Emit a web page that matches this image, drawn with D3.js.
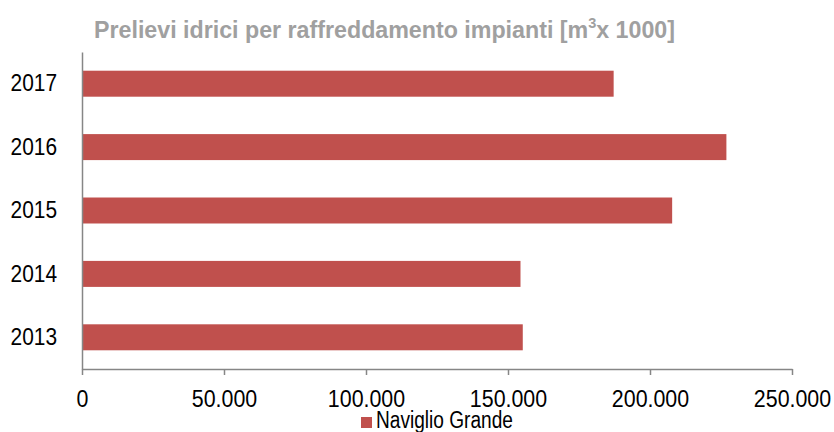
<!DOCTYPE html>
<html>
<head>
<meta charset="utf-8">
<script src="https://cdn.jsdelivr.net/npm/d3@7"></script>
<style>
  body { margin: 0; background: #fff; }
  text { font-family: "Liberation Sans", Arial, sans-serif; }
</style>
</head>
<body>
<div id="chart"></div>
<script>
// data
var years = ['2017', '2016', '2015', '2014', '2013']
var values = [187200, 226900, 207800, 154400, 155200]
var ticks = [0, 50000, 100000, 150000, 200000, 250000]
var seriesName = 'Naviglio Grande'

var w = 834, h = 432
var barColor = '#c0504d', axisColor = '#868686'
var fontFam = '"Liberation Sans", Arial, sans-serif'

var svg = d3.select('#chart').append('svg')
  .attr('width', w).attr('height', h)

var x = d3.scaleLinear().domain([0, 250000]).range([82, 792])
var y = d3.scaleBand().domain(years).range([52, 369])
  .paddingInner(0.59).paddingOuter(0.295)

var it = d3.formatLocale({ decimal: ',', thousands: '.', grouping: [3], currency: ['', '€'] })
var fmt = it.format(',')

// no narrow font installed: squeeze text horizontally
function narrow(sel, k) {
  sel.each(function () {
    var n = this.getComputedTextLength()
    d3.select(this).attr('textLength', n * k).attr('lengthAdjust', 'spacingAndGlyphs')
  })
}

// title
var title = svg.append('text')
  .attr('x', 94).attr('y', 38)
  .attr('font-family', fontFam)
  .attr('fill', '#a0a0a0').attr('font-weight', 'bold').attr('font-size', 24)
title.append('tspan').text('Prelievi idrici per raffreddamento impianti [m')
title.append('tspan').attr('font-size', 15).attr('dy', -10).text('3')
title.append('tspan').attr('dy', 10).text('x 1000]')
title.attr('textLength', 581).attr('lengthAdjust', 'spacingAndGlyphs')

// bars
svg.selectAll('rect.bar').data(values).enter().append('rect')
  .attr('class', 'bar')
  .attr('x', x(0))
  .attr('y', function (d, i) { return y(years[i]) })
  .attr('width', function (d) { return x(d) - x(0) })
  .attr('height', y.bandwidth())
  .attr('fill', barColor)

// x axis
var xAxis = svg.append('g').attr('transform', 'translate(0,369)')
  .call(d3.axisBottom(x).tickValues(ticks).tickFormat(fmt).tickSize(6).tickPadding(16).tickSizeOuter(0))
xAxis.selectAll('line').attr('stroke', axisColor).attr('stroke-width', 1.5)
xAxis.select('.domain').attr('stroke', axisColor).attr('stroke-width', 1.5)
xAxis.selectAll('text').attr('font-size', 23).attr('fill', '#000').attr('font-family', fontFam)
  .call(narrow, 0.93)

// y axis
var yAxis = svg.append('g').attr('transform', 'translate(82,0)')
  .call(d3.axisLeft(y).tickSize(0).tickPadding(25))
yAxis.select('.domain').attr('stroke', axisColor).attr('stroke-width', 1.5)
yAxis.selectAll('text').attr('font-size', 24).attr('fill', '#000').attr('font-family', fontFam)
  .call(narrow, 0.87)

// legend
svg.append('rect').attr('x', 361).attr('y', 417).attr('width', 11).attr('height', 11).attr('fill', barColor)
svg.append('text').attr('x', 376).attr('y', 428).attr('font-size', 23).attr('fill', '#000')
  .attr('font-family', fontFam).text(seriesName)
  .call(narrow, 0.83)
</script>
</body>
</html>
